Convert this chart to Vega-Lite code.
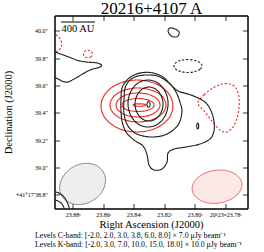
{
"$schema":"https://vega.github.io/schema/vega-lite/v6.json",
"width":193,"height":193,
"autosize":"none",
"padding":{"left":54.5,"top":15.5,"right":16.5,"bottom":43.5},
"background":"white",
"config":{
 "font":"Liberation Serif",
 "view":{"stroke":"#000","strokeWidth":1},
 "axis":{"grid":false,"domainColor":"#000","domainWidth":1,"tickColor":"#000","tickWidth":0.8,"tickSize":-5,"labelColor":"#000","titleColor":"#000","labelFont":"Liberation Serif","titleFont":"Liberation Serif","titleFontWeight":"normal","labelFontSize":6,"labelFlush":false,"labelOverlap":false,"labelBound":false}
},
"title":{"text":["Levels C-band: [-2.0, 2.0, 3.0, 3.8, 6.0, 8.0] × 7.0 μJy beam⁻¹","Levels K-band: [-2.0, 3.0, 7.0, 10.0, 15.0, 18.0] × 10.0 μJy beam⁻¹"],"orient":"bottom","anchor":"start","frame":"group","dx":-19.5,"offset":2,"fontSize":7.8,"font":"Liberation Serif","fontWeight":"normal","lineHeight":9,"color":"#000"},
"datasets":{
"beams":[
{"b":"K","i":0,"ra":23.8599,"dec":38.968},{"b":"K","i":1,"ra":23.8585,"dec":38.895},{"b":"K","i":2,"ra":23.8611,"dec":38.817},{"b":"K","i":3,"ra":23.8671,"dec":38.757},{"b":"K","i":4,"ra":23.8748,"dec":38.730},{"b":"K","i":5,"ra":23.8820,"dec":38.743},{"b":"K","i":6,"ra":23.8871,"dec":38.792},{"b":"K","i":7,"ra":23.8885,"dec":38.866},{"b":"K","i":8,"ra":23.8858,"dec":38.943},{"b":"K","i":9,"ra":23.8799,"dec":39.004},{"b":"K","i":10,"ra":23.8722,"dec":39.031},{"b":"K","i":11,"ra":23.8649,"dec":39.018},
{"b":"C","i":0,"ra":23.7690,"dec":38.886},{"b":"C","i":1,"ra":23.7705,"dec":38.822},{"b":"C","i":2,"ra":23.7759,"dec":38.770},{"b":"C","i":3,"ra":23.7838,"dec":38.741},{"b":"C","i":4,"ra":23.7921,"dec":38.744},{"b":"C","i":5,"ra":23.7986,"dec":38.779},{"b":"C","i":6,"ra":23.8016,"dec":38.835},{"b":"C","i":7,"ra":23.8001,"dec":38.899},{"b":"C","i":8,"ra":23.7948,"dec":38.951},{"b":"C","i":9,"ra":23.7868,"dec":38.980},{"b":"C","i":10,"ra":23.7785,"dec":38.977},{"b":"C","i":11,"ra":23.7720,"dec":38.942}
],
"closed":[
{"c":"r1","band":"C","sign":"pos","i":0,"ra":23.8142,"dec":39.451},{"c":"r1","band":"C","sign":"pos","i":1,"ra":23.8173,"dec":39.356},{"c":"r1","band":"C","sign":"pos","i":2,"ra":23.8260,"dec":39.286},{"c":"r1","band":"C","sign":"pos","i":3,"ra":23.8378,"dec":39.261},{"c":"r1","band":"C","sign":"pos","i":4,"ra":23.8496,"dec":39.286},{"c":"r1","band":"C","sign":"pos","i":5,"ra":23.8582,"dec":39.356},{"c":"r1","band":"C","sign":"pos","i":6,"ra":23.8614,"dec":39.451},{"c":"r1","band":"C","sign":"pos","i":7,"ra":23.8582,"dec":39.546},{"c":"r1","band":"C","sign":"pos","i":8,"ra":23.8496,"dec":39.616},{"c":"r1","band":"C","sign":"pos","i":9,"ra":23.8378,"dec":39.641},{"c":"r1","band":"C","sign":"pos","i":10,"ra":23.8260,"dec":39.616},{"c":"r1","band":"C","sign":"pos","i":11,"ra":23.8173,"dec":39.546},
{"c":"r2","band":"C","sign":"pos","i":0,"ra":23.8188,"dec":39.458},{"c":"r2","band":"C","sign":"pos","i":1,"ra":23.8212,"dec":39.396},{"c":"r2","band":"C","sign":"pos","i":2,"ra":23.8279,"dec":39.351},{"c":"r2","band":"C","sign":"pos","i":3,"ra":23.8371,"dec":39.334},{"c":"r2","band":"C","sign":"pos","i":4,"ra":23.8463,"dec":39.351},{"c":"r2","band":"C","sign":"pos","i":5,"ra":23.8530,"dec":39.396},{"c":"r2","band":"C","sign":"pos","i":6,"ra":23.8555,"dec":39.458},{"c":"r2","band":"C","sign":"pos","i":7,"ra":23.8530,"dec":39.521},{"c":"r2","band":"C","sign":"pos","i":8,"ra":23.8463,"dec":39.566},{"c":"r2","band":"C","sign":"pos","i":9,"ra":23.8371,"dec":39.583},{"c":"r2","band":"C","sign":"pos","i":10,"ra":23.8279,"dec":39.566},{"c":"r2","band":"C","sign":"pos","i":11,"ra":23.8212,"dec":39.521},
{"c":"r3","band":"C","sign":"pos","i":0,"ra":23.8227,"dec":39.458},{"c":"r3","band":"C","sign":"pos","i":1,"ra":23.8246,"dec":39.415},{"c":"r3","band":"C","sign":"pos","i":2,"ra":23.8299,"dec":39.382},{"c":"r3","band":"C","sign":"pos","i":3,"ra":23.8371,"dec":39.371},{"c":"r3","band":"C","sign":"pos","i":4,"ra":23.8443,"dec":39.382},{"c":"r3","band":"C","sign":"pos","i":5,"ra":23.8496,"dec":39.415},{"c":"r3","band":"C","sign":"pos","i":6,"ra":23.8515,"dec":39.458},{"c":"r3","band":"C","sign":"pos","i":7,"ra":23.8496,"dec":39.502},{"c":"r3","band":"C","sign":"pos","i":8,"ra":23.8443,"dec":39.535},{"c":"r3","band":"C","sign":"pos","i":9,"ra":23.8371,"dec":39.546},{"c":"r3","band":"C","sign":"pos","i":10,"ra":23.8299,"dec":39.535},{"c":"r3","band":"C","sign":"pos","i":11,"ra":23.8246,"dec":39.502},
{"c":"r4","band":"C","sign":"pos","i":0,"ra":23.8266,"dec":39.458},{"c":"r4","band":"C","sign":"pos","i":1,"ra":23.8280,"dec":39.434},{"c":"r4","band":"C","sign":"pos","i":2,"ra":23.8319,"dec":39.417},{"c":"r4","band":"C","sign":"pos","i":3,"ra":23.8371,"dec":39.411},{"c":"r4","band":"C","sign":"pos","i":4,"ra":23.8424,"dec":39.417},{"c":"r4","band":"C","sign":"pos","i":5,"ra":23.8462,"dec":39.434},{"c":"r4","band":"C","sign":"pos","i":6,"ra":23.8476,"dec":39.458},{"c":"r4","band":"C","sign":"pos","i":7,"ra":23.8462,"dec":39.483},{"c":"r4","band":"C","sign":"pos","i":8,"ra":23.8424,"dec":39.499},{"c":"r4","band":"C","sign":"pos","i":9,"ra":23.8371,"dec":39.506},{"c":"r4","band":"C","sign":"pos","i":10,"ra":23.8319,"dec":39.499},{"c":"r4","band":"C","sign":"pos","i":11,"ra":23.8280,"dec":39.483},
{"c":"r5","band":"C","sign":"pos","i":0,"ra":23.8319,"dec":39.458},{"c":"r5","band":"C","sign":"pos","i":1,"ra":23.8340,"dec":39.450},{"c":"r5","band":"C","sign":"pos","i":2,"ra":23.8383,"dec":39.450},{"c":"r5","band":"C","sign":"pos","i":3,"ra":23.8404,"dec":39.458},{"c":"r5","band":"C","sign":"pos","i":4,"ra":23.8383,"dec":39.466},{"c":"r5","band":"C","sign":"pos","i":5,"ra":23.8340,"dec":39.466},
{"c":"rn1","band":"C","sign":"neg","i":0,"ra":23.7978,"dec":39.473},{"c":"rn1","band":"C","sign":"neg","i":1,"ra":23.7938,"dec":39.532},{"c":"rn1","band":"C","sign":"neg","i":2,"ra":23.7879,"dec":39.583},{"c":"rn1","band":"C","sign":"neg","i":3,"ra":23.7820,"dec":39.612},{"c":"rn1","band":"C","sign":"neg","i":4,"ra":23.7768,"dec":39.612},{"c":"rn1","band":"C","sign":"neg","i":5,"ra":23.7729,"dec":39.583},{"c":"rn1","band":"C","sign":"neg","i":6,"ra":23.7709,"dec":39.517},{"c":"rn1","band":"C","sign":"neg","i":7,"ra":23.7709,"dec":39.436},{"c":"rn1","band":"C","sign":"neg","i":8,"ra":23.7722,"dec":39.363},{"c":"rn1","band":"C","sign":"neg","i":9,"ra":23.7748,"dec":39.297},{"c":"rn1","band":"C","sign":"neg","i":10,"ra":23.7788,"dec":39.261},{"c":"rn1","band":"C","sign":"neg","i":11,"ra":23.7833,"dec":39.275},{"c":"rn1","band":"C","sign":"neg","i":12,"ra":23.7886,"dec":39.341},{"c":"rn1","band":"C","sign":"neg","i":13,"ra":23.7938,"dec":39.415},
{"c":"rn2","band":"C","sign":"neg","i":0,"ra":23.8670,"dec":39.832},{"c":"rn2","band":"C","sign":"neg","i":1,"ra":23.8678,"dec":39.812},{"c":"rn2","band":"C","sign":"neg","i":2,"ra":23.8699,"dec":39.804},{"c":"rn2","band":"C","sign":"neg","i":3,"ra":23.8720,"dec":39.812},{"c":"rn2","band":"C","sign":"neg","i":4,"ra":23.8729,"dec":39.832},{"c":"rn2","band":"C","sign":"neg","i":5,"ra":23.8720,"dec":39.851},{"c":"rn2","band":"C","sign":"neg","i":6,"ra":23.8699,"dec":39.859},{"c":"rn2","band":"C","sign":"neg","i":7,"ra":23.8678,"dec":39.851},
{"c":"k1","band":"K","sign":"pos","i":0,"ra":23.8483,"dec":39.495},{"c":"k1","band":"K","sign":"pos","i":1,"ra":23.8476,"dec":39.583},{"c":"k1","band":"K","sign":"pos","i":2,"ra":23.8443,"dec":39.641},{"c":"k1","band":"K","sign":"pos","i":3,"ra":23.8397,"dec":39.678},{"c":"k1","band":"K","sign":"pos","i":4,"ra":23.8338,"dec":39.696},{"c":"k1","band":"K","sign":"pos","i":5,"ra":23.8273,"dec":39.693},{"c":"k1","band":"K","sign":"pos","i":6,"ra":23.8207,"dec":39.663},{"c":"k1","band":"K","sign":"pos","i":7,"ra":23.8155,"dec":39.605},{"c":"k1","band":"K","sign":"pos","i":8,"ra":23.8109,"dec":39.561},{"c":"k1","band":"K","sign":"pos","i":9,"ra":23.8043,"dec":39.539},{"c":"k1","band":"K","sign":"pos","i":10,"ra":23.7978,"dec":39.510},{"c":"k1","band":"K","sign":"pos","i":11,"ra":23.7925,"dec":39.473},{"c":"k1","band":"K","sign":"pos","i":12,"ra":23.7892,"dec":39.415},{"c":"k1","band":"K","sign":"pos","i":13,"ra":23.7873,"dec":39.341},{"c":"k1","band":"K","sign":"pos","i":14,"ra":23.7873,"dec":39.268},{"c":"k1","band":"K","sign":"pos","i":15,"ra":23.7899,"dec":39.210},{"c":"k1","band":"K","sign":"pos","i":16,"ra":23.7965,"dec":39.173},{"c":"k1","band":"K","sign":"pos","i":17,"ra":23.8056,"dec":39.151},{"c":"k1","band":"K","sign":"pos","i":18,"ra":23.8135,"dec":39.136},{"c":"k1","band":"K","sign":"pos","i":19,"ra":23.8174,"dec":39.107},{"c":"k1","band":"K","sign":"pos","i":20,"ra":23.8181,"dec":39.041},{"c":"k1","band":"K","sign":"pos","i":21,"ra":23.8214,"dec":38.990},{"c":"k1","band":"K","sign":"pos","i":22,"ra":23.8266,"dec":38.983},{"c":"k1","band":"K","sign":"pos","i":23,"ra":23.8299,"dec":39.019},{"c":"k1","band":"K","sign":"pos","i":24,"ra":23.8312,"dec":39.093},{"c":"k1","band":"K","sign":"pos","i":25,"ra":23.8338,"dec":39.158},{"c":"k1","band":"K","sign":"pos","i":26,"ra":23.8397,"dec":39.202},{"c":"k1","band":"K","sign":"pos","i":27,"ra":23.8450,"dec":39.261},{"c":"k1","band":"K","sign":"pos","i":28,"ra":23.8476,"dec":39.341},{"c":"k1","band":"K","sign":"pos","i":29,"ra":23.8483,"dec":39.422},
{"c":"k2","band":"K","sign":"pos","i":0,"ra":23.8463,"dec":39.495},{"c":"k2","band":"K","sign":"pos","i":1,"ra":23.8456,"dec":39.583},{"c":"k2","band":"K","sign":"pos","i":2,"ra":23.8424,"dec":39.641},{"c":"k2","band":"K","sign":"pos","i":3,"ra":23.8371,"dec":39.671},{"c":"k2","band":"K","sign":"pos","i":4,"ra":23.8292,"dec":39.678},{"c":"k2","band":"K","sign":"pos","i":5,"ra":23.8227,"dec":39.663},{"c":"k2","band":"K","sign":"pos","i":6,"ra":23.8161,"dec":39.612},{"c":"k2","band":"K","sign":"pos","i":7,"ra":23.8122,"dec":39.554},{"c":"k2","band":"K","sign":"pos","i":8,"ra":23.8096,"dec":39.480},{"c":"k2","band":"K","sign":"pos","i":9,"ra":23.8083,"dec":39.407},{"c":"k2","band":"K","sign":"pos","i":10,"ra":23.8109,"dec":39.312},{"c":"k2","band":"K","sign":"pos","i":11,"ra":23.8181,"dec":39.246},{"c":"k2","band":"K","sign":"pos","i":12,"ra":23.8279,"dec":39.224},{"c":"k2","band":"K","sign":"pos","i":13,"ra":23.8378,"dec":39.246},{"c":"k2","band":"K","sign":"pos","i":14,"ra":23.8437,"dec":39.305},{"c":"k2","band":"K","sign":"pos","i":15,"ra":23.8463,"dec":39.393},
{"c":"k3","band":"K","sign":"pos","i":0,"ra":23.8174,"dec":39.469},{"c":"k3","band":"K","sign":"pos","i":1,"ra":23.8192,"dec":39.383},{"c":"k3","band":"K","sign":"pos","i":2,"ra":23.8240,"dec":39.320},{"c":"k3","band":"K","sign":"pos","i":3,"ra":23.8306,"dec":39.297},{"c":"k3","band":"K","sign":"pos","i":4,"ra":23.8371,"dec":39.320},{"c":"k3","band":"K","sign":"pos","i":5,"ra":23.8419,"dec":39.383},{"c":"k3","band":"K","sign":"pos","i":6,"ra":23.8437,"dec":39.469},{"c":"k3","band":"K","sign":"pos","i":7,"ra":23.8419,"dec":39.555},{"c":"k3","band":"K","sign":"pos","i":8,"ra":23.8371,"dec":39.619},{"c":"k3","band":"K","sign":"pos","i":9,"ra":23.8306,"dec":39.641},{"c":"k3","band":"K","sign":"pos","i":10,"ra":23.8240,"dec":39.619},{"c":"k3","band":"K","sign":"pos","i":11,"ra":23.8192,"dec":39.555},
{"c":"k4","band":"K","sign":"pos","i":0,"ra":23.8207,"dec":39.466},{"c":"k4","band":"K","sign":"pos","i":1,"ra":23.8220,"dec":39.404},{"c":"k4","band":"K","sign":"pos","i":2,"ra":23.8253,"dec":39.358},{"c":"k4","band":"K","sign":"pos","i":3,"ra":23.8299,"dec":39.341},{"c":"k4","band":"K","sign":"pos","i":4,"ra":23.8345,"dec":39.358},{"c":"k4","band":"K","sign":"pos","i":5,"ra":23.8378,"dec":39.404},{"c":"k4","band":"K","sign":"pos","i":6,"ra":23.8391,"dec":39.466},{"c":"k4","band":"K","sign":"pos","i":7,"ra":23.8378,"dec":39.528},{"c":"k4","band":"K","sign":"pos","i":8,"ra":23.8345,"dec":39.573},{"c":"k4","band":"K","sign":"pos","i":9,"ra":23.8299,"dec":39.590},{"c":"k4","band":"K","sign":"pos","i":10,"ra":23.8253,"dec":39.573},{"c":"k4","band":"K","sign":"pos","i":11,"ra":23.8220,"dec":39.528},
{"c":"k5","band":"K","sign":"pos","i":0,"ra":23.8292,"dec":39.462},{"c":"k5","band":"K","sign":"pos","i":1,"ra":23.8297,"dec":39.444},{"c":"k5","band":"K","sign":"pos","i":2,"ra":23.8308,"dec":39.444},{"c":"k5","band":"K","sign":"pos","i":3,"ra":23.8312,"dec":39.462},{"c":"k5","band":"K","sign":"pos","i":4,"ra":23.8308,"dec":39.480},{"c":"k5","band":"K","sign":"pos","i":5,"ra":23.8297,"dec":39.480},
{"c":"k6","band":"K","sign":"pos","i":0,"ra":23.7973,"dec":39.305},{"c":"k6","band":"K","sign":"pos","i":1,"ra":23.7976,"dec":39.286},{"c":"k6","band":"K","sign":"pos","i":2,"ra":23.7983,"dec":39.286},{"c":"k6","band":"K","sign":"pos","i":3,"ra":23.7986,"dec":39.305},{"c":"k6","band":"K","sign":"pos","i":4,"ra":23.7983,"dec":39.323},{"c":"k6","band":"K","sign":"pos","i":5,"ra":23.7976,"dec":39.323},
{"c":"k7","band":"K","sign":"pos","i":0,"ra":23.8161,"dec":40.022},{"c":"k7","band":"K","sign":"pos","i":1,"ra":23.8129,"dec":40.015},{"c":"k7","band":"K","sign":"pos","i":2,"ra":23.8102,"dec":39.993},{"c":"k7","band":"K","sign":"pos","i":3,"ra":23.8109,"dec":39.963},{"c":"k7","band":"K","sign":"pos","i":4,"ra":23.8135,"dec":39.956},{"c":"k7","band":"K","sign":"pos","i":5,"ra":23.8161,"dec":39.971},{"c":"k7","band":"K","sign":"pos","i":6,"ra":23.8174,"dec":40.000},
{"c":"kn1","band":"K","sign":"neg","i":0,"ra":23.7951,"dec":39.744},{"c":"kn1","band":"K","sign":"neg","i":1,"ra":23.7964,"dec":39.720},{"c":"kn1","band":"K","sign":"neg","i":2,"ra":23.7997,"dec":39.703},{"c":"kn1","band":"K","sign":"neg","i":3,"ra":23.8043,"dec":39.696},{"c":"kn1","band":"K","sign":"neg","i":4,"ra":23.8089,"dec":39.703},{"c":"kn1","band":"K","sign":"neg","i":5,"ra":23.8123,"dec":39.720},{"c":"kn1","band":"K","sign":"neg","i":6,"ra":23.8135,"dec":39.744},{"c":"kn1","band":"K","sign":"neg","i":7,"ra":23.8123,"dec":39.768},{"c":"kn1","band":"K","sign":"neg","i":8,"ra":23.8089,"dec":39.785},{"c":"kn1","band":"K","sign":"neg","i":9,"ra":23.8043,"dec":39.791},{"c":"kn1","band":"K","sign":"neg","i":10,"ra":23.7997,"dec":39.785},{"c":"kn1","band":"K","sign":"neg","i":11,"ra":23.7964,"dec":39.768}
],
"open":[
{"c":"rn3","band":"C","sign":"neg","i":0,"ra":23.8935,"dec":39.985},{"c":"rn3","band":"C","sign":"neg","i":1,"ra":23.8896,"dec":39.963},{"c":"rn3","band":"C","sign":"neg","i":2,"ra":23.8876,"dec":39.927},{"c":"rn3","band":"C","sign":"neg","i":3,"ra":23.8873,"dec":39.890},{"c":"rn3","band":"C","sign":"neg","i":4,"ra":23.8889,"dec":39.861},{"c":"rn3","band":"C","sign":"neg","i":5,"ra":23.8915,"dec":39.846},{"c":"rn3","band":"C","sign":"neg","i":6,"ra":23.8935,"dec":39.843},
{"c":"k8","band":"K","sign":"pos","i":0,"ra":23.8935,"dec":39.854},{"c":"k8","band":"K","sign":"pos","i":1,"ra":23.8870,"dec":39.828},{"c":"k8","band":"K","sign":"pos","i":2,"ra":23.8817,"dec":39.806},{"c":"k8","band":"K","sign":"pos","i":3,"ra":23.8765,"dec":39.784},{"c":"k8","band":"K","sign":"pos","i":4,"ra":23.8712,"dec":39.773},{"c":"k8","band":"K","sign":"pos","i":5,"ra":23.8660,"dec":39.769},{"c":"k8","band":"K","sign":"pos","i":6,"ra":23.8627,"dec":39.762},{"c":"k8","band":"K","sign":"pos","i":7,"ra":23.8610,"dec":39.748},{"c":"k8","band":"K","sign":"pos","i":8,"ra":23.8627,"dec":39.733},{"c":"k8","band":"K","sign":"pos","i":9,"ra":23.8666,"dec":39.722},{"c":"k8","band":"K","sign":"pos","i":10,"ra":23.8706,"dec":39.704},{"c":"k8","band":"K","sign":"pos","i":11,"ra":23.8751,"dec":39.674},{"c":"k8","band":"K","sign":"pos","i":12,"ra":23.8797,"dec":39.645},{"c":"k8","band":"K","sign":"pos","i":13,"ra":23.8830,"dec":39.627},{"c":"k8","band":"K","sign":"pos","i":14,"ra":23.8863,"dec":39.630},{"c":"k8","band":"K","sign":"pos","i":15,"ra":23.8896,"dec":39.649},{"c":"k8","band":"K","sign":"pos","i":16,"ra":23.8935,"dec":39.671},
{"c":"k9","band":"K","sign":"pos","i":0,"ra":23.8935,"dec":38.829},{"c":"k9","band":"K","sign":"pos","i":1,"ra":23.8889,"dec":38.814},{"c":"k9","band":"K","sign":"pos","i":2,"ra":23.8856,"dec":38.785},{"c":"k9","band":"K","sign":"pos","i":3,"ra":23.8837,"dec":38.749},{"c":"k9","band":"K","sign":"pos","i":4,"ra":23.8824,"dec":38.712},{"c":"k9","band":"K","sign":"pos","i":5,"ra":23.8817,"dec":38.683},
{"c":"k10","band":"K","sign":"pos","i":0,"ra":23.8935,"dec":38.770},{"c":"k10","band":"K","sign":"pos","i":1,"ra":23.8896,"dec":38.756},{"c":"k10","band":"K","sign":"pos","i":2,"ra":23.8870,"dec":38.734},{"c":"k10","band":"K","sign":"pos","i":3,"ra":23.8856,"dec":38.705},{"c":"k10","band":"K","sign":"pos","i":4,"ra":23.8850,"dec":38.683}
],
"bar":[{"ra1":23.8876,"ra2":23.8653,"dec":40.066,"ra":23.8765,"tdec":40.018,"label":"400 AU"}]
},
"layer":[
{"data":{"name":"beams"},"transform":[{"filter":"datum.b=='K'"}],
 "mark":{"type":"line","interpolate":"cardinal-closed","stroke":"#8c8c8c","strokeWidth":1,"fill":"#ececec","fillOpacity":0.9,"clip":true},
 "encoding":{
  "x":{"field":"ra","type":"quantitative","scale":{"domain":[23.7653,23.8919],"reverse":true,"nice":false,"zero":false},
   "axis":{"orient":"bottom","values":[23.78,23.80,23.82,23.84,23.86,23.88],"labelExpr":"format(datum.value,'.2f')=='23.78' ? '20ʰ23ᵐ23.78ˢ' : format(datum.value,'.2f')+'ˢ'","labelPadding":7.5,"title":"Right Ascension (J2000)","titleFontSize":10.5,"titlePadding":2}},
  "y":{"field":"dec","type":"quantitative","scale":{"domain":[38.701,40.1134],"nice":false,"zero":false},
   "axis":{"orient":"left","values":[38.8,39.0,39.2,39.4,39.6,39.8,40.0],"labelExpr":"format(datum.value,'.1f')=='38.8' ? '+41°17′38.8″' : format(datum.value,'.1f')+'″'","labelPadding":12,"title":"Declination (J2000)","titleFontSize":10.5,"titlePadding":2}},
  "order":{"field":"i","type":"quantitative"}}},
{"data":{"name":"beams"},"transform":[{"filter":"datum.b=='C'"}],
 "mark":{"type":"line","interpolate":"cardinal-closed","stroke":"#f26b6b","strokeWidth":1,"fill":"#fde6e6","fillOpacity":0.9,"clip":true},
 "encoding":{
  "x":{"field":"ra","type":"quantitative","scale":{"domain":[23.7653,23.8919],"reverse":true,"nice":false,"zero":false},
   "axis":{"orient":"top","values":[23.78,23.80,23.82,23.84,23.86,23.88],"labels":false,"title":"20216+4107 A","titleFontSize":17,"titleBaseline":"alphabetic","titleY":-2.5}},
  "y":{"field":"dec","type":"quantitative","scale":{"domain":[38.701,40.1134],"nice":false,"zero":false},
   "axis":{"orient":"right","values":[38.8,39.0,39.2,39.4,39.6,39.8,40.0],"labels":false,"title":null}},
  "order":{"field":"i","type":"quantitative"}}},
{"data":{"name":"closed"},
 "mark":{"type":"line","interpolate":"cardinal-closed","strokeWidth":1.1,"clip":true},
 "encoding":{
  "x":{"field":"ra","type":"quantitative","scale":{"domain":[23.7653,23.8919],"reverse":true,"nice":false,"zero":false},"axis":null},
  "y":{"field":"dec","type":"quantitative","scale":{"domain":[38.701,40.1134],"nice":false,"zero":false},"axis":null},
  "detail":{"field":"c","type":"nominal"},
  "order":{"field":"i","type":"quantitative"},
  "color":{"field":"band","type":"nominal","scale":{"domain":["C","K"],"range":["#ee2a24","#1c1c1c"]},"legend":null},
  "strokeDash":{"field":"sign","type":"nominal","scale":{"domain":["pos","neg"],"range":[[1,0],[2.2,1.8]]},"legend":null}}},
{"data":{"name":"open"},
 "mark":{"type":"line","interpolate":"cardinal","strokeWidth":1.1,"clip":true},
 "encoding":{
  "x":{"field":"ra","type":"quantitative","scale":{"domain":[23.7653,23.8919],"reverse":true,"nice":false,"zero":false},"axis":null},
  "y":{"field":"dec","type":"quantitative","scale":{"domain":[38.701,40.1134],"nice":false,"zero":false},"axis":null},
  "detail":{"field":"c","type":"nominal"},
  "order":{"field":"i","type":"quantitative"},
  "color":{"field":"band","type":"nominal","scale":{"domain":["C","K"],"range":["#ee2a24","#1c1c1c"]},"legend":null},
  "strokeDash":{"field":"sign","type":"nominal","scale":{"domain":["pos","neg"],"range":[[1,0],[2.2,1.8]]},"legend":null}}},
{"data":{"name":"bar"},
 "mark":{"type":"rule","color":"#000","strokeWidth":1.2},
 "encoding":{
  "x":{"field":"ra1","type":"quantitative","scale":{"domain":[23.7653,23.8919],"reverse":true,"nice":false,"zero":false},"axis":null},
  "x2":{"field":"ra2"},
  "y":{"field":"dec","type":"quantitative","scale":{"domain":[38.701,40.1134],"nice":false,"zero":false},"axis":null}}},
{"data":{"name":"bar"},
 "mark":{"type":"text","font":"Liberation Serif","fontSize":10.5,"color":"#000","baseline":"middle","align":"center"},
 "encoding":{
  "x":{"field":"ra","type":"quantitative","scale":{"domain":[23.7653,23.8919],"reverse":true,"nice":false,"zero":false},"axis":null},
  "y":{"field":"tdec","type":"quantitative","scale":{"domain":[38.701,40.1134],"nice":false,"zero":false},"axis":null},
  "text":{"field":"label"}}}
],
"resolve":{"axis":{"x":"independent","y":"independent"}}
}
